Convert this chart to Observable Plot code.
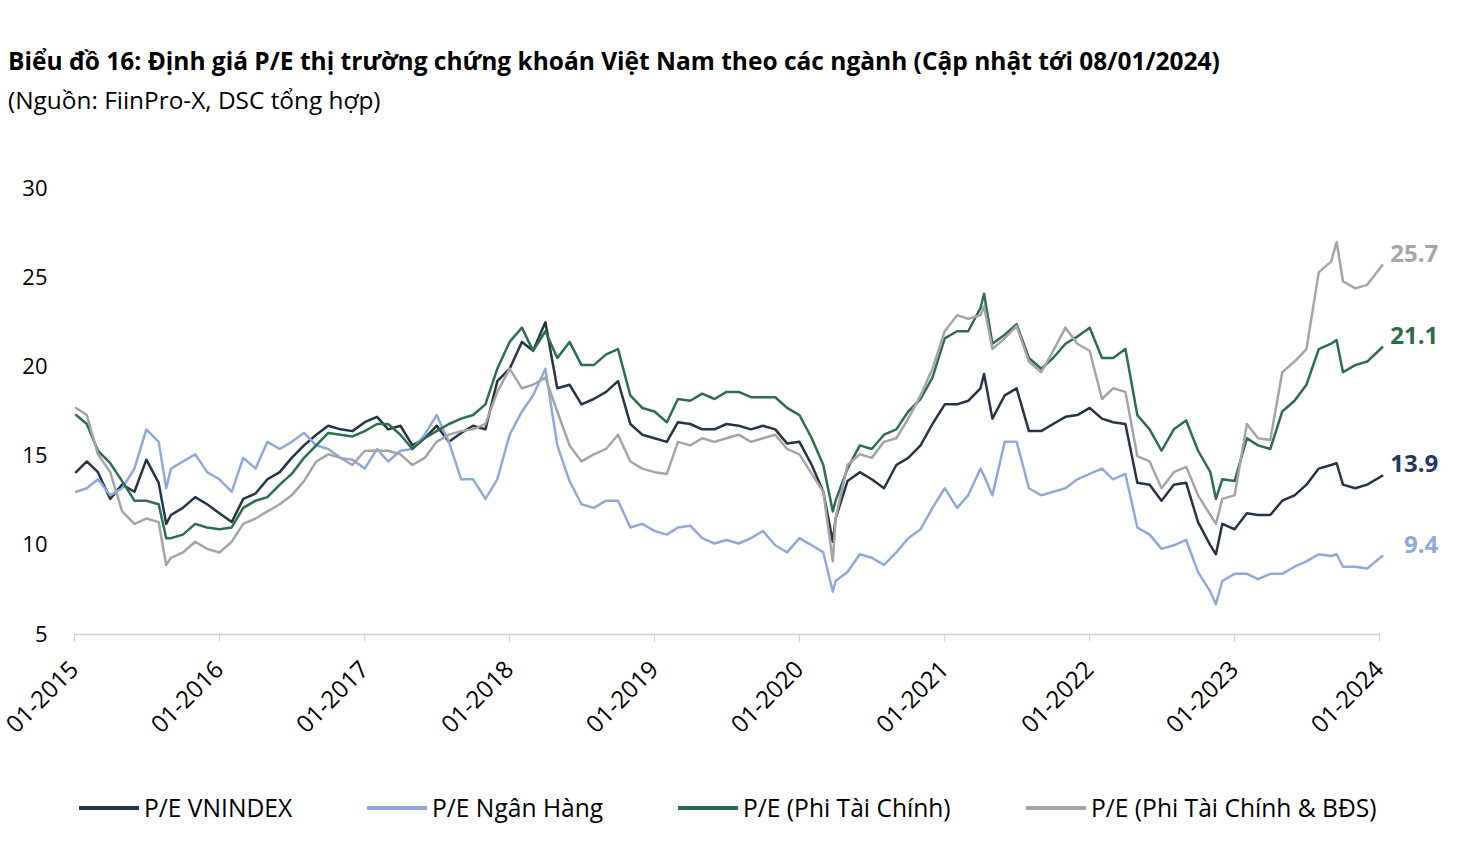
<!DOCTYPE html>
<html><head><meta charset="utf-8">
<script src="https://cdn.jsdelivr.net/npm/d3@7"></script>
<script src="https://cdn.jsdelivr.net/npm/@observablehq/plot@0.6"></script>
<style>
body{margin:0;background:#fff;font-family:"Open Sans",sans-serif;width:1464px;height:868px;position:relative;overflow:hidden;color:#000}
#title{position:absolute;left:8px;top:44px;font-weight:700;font-size:24.5px;white-space:nowrap}
#sub{position:absolute;left:8px;top:83px;font-size:24.4px;white-space:nowrap}
#chart{position:absolute;left:0;top:130px}
.lg{position:absolute;top:791px;display:flex;align-items:center;font-size:24.6px;white-space:nowrap}
.sw{display:inline-block;width:60px;height:4px;margin-right:5px}
</style></head>
<body>
<div id="title">Biểu đồ 16: Định giá P/E thị trường chứng khoán Việt Nam theo các ngành (Cập nhật tới 08/01/2024)</div>
<div id="sub">(Nguồn: FiinPro-X, DSC tổng hợp)</div>
<div id="chart"></div>
<div id="legend"></div>
<script>
const seriesNames = ["P/E VNINDEX", "P/E Ngân Hàng", "P/E (Phi Tài Chính)", "P/E (Phi Tài Chính & BĐS)"];
const seriesColors = ["#253447", "#8fa9dc", "#2d6e4e", "#a5a5a5"];
const labelColors = ["#1f3864", "#8eaadb", "#2e6b4a", "#a6a6a6"];

const dates = [
 "2015-01-05","2015-02","2015-03","2015-04","2015-05","2015-06","2015-07","2015-08","2015-08-20","2015-09","2015-10","2015-11","2015-12",
 "2016-01","2016-02","2016-03","2016-04","2016-05","2016-06","2016-07","2016-08","2016-09","2016-10","2016-11","2016-12",
 "2017-01","2017-02","2017-03","2017-04","2017-05","2017-06","2017-07","2017-08","2017-09","2017-10","2017-11","2017-12",
 "2018-01","2018-02","2018-03","2018-04","2018-05","2018-06","2018-07","2018-08","2018-09","2018-10","2018-11","2018-12",
 "2019-01","2019-02","2019-03","2019-04","2019-05","2019-06","2019-07","2019-08","2019-09","2019-10","2019-11","2019-12",
 "2020-01","2020-02","2020-03","2020-03-25","2020-04","2020-05","2020-06","2020-07","2020-08","2020-09","2020-10","2020-11","2020-12",
 "2021-01","2021-02","2021-03","2021-04","2021-04-10","2021-05","2021-06","2021-07","2021-08","2021-09","2021-10","2021-11","2021-12",
 "2022-01","2022-02","2022-03","2022-04","2022-05","2022-06","2022-07","2022-08","2022-09","2022-10","2022-11","2022-11-15","2022-12",
 "2023-01","2023-02","2023-03","2023-04","2023-05","2023-06","2023-07","2023-08","2023-09","2023-09-15","2023-10","2023-11","2023-12",
 "2024-01-08"
];

const peVnindex = [
 14.1,14.7,14.1,12.6,13.4,13.0,14.8,13.5,11.2,11.7,12.1,12.7,12.3,
 11.8,11.3,12.6,12.9,13.7,14.1,14.9,15.6,16.2,16.7,16.5,16.4,
 16.9,17.2,16.5,16.7,15.6,16.0,16.7,15.8,16.3,16.7,16.5,19.2,
 19.9,21.4,20.9,22.5,18.8,19.0,17.9,18.2,18.6,19.2,16.8,16.2,
 16.0,15.8,16.9,16.8,16.5,16.5,16.8,16.7,16.5,16.7,16.5,15.7,
 15.8,14.5,13.0,10.2,11.5,13.6,14.1,13.7,13.2,14.5,14.9,15.6,16.8,
 17.9,17.9,18.1,18.8,19.6,17.1,18.4,18.8,16.4,16.4,16.8,17.2,17.3,
 17.7,17.1,16.9,16.8,13.5,13.4,12.5,13.4,13.5,11.3,10.0,9.5,11.2,
 10.9,11.8,11.7,11.7,12.5,12.8,13.4,14.3,14.5,14.6,13.4,13.2,13.4,
 13.9
];
const peBank = [
 13.0,13.2,13.7,12.8,13.2,14.3,16.5,15.8,13.2,14.3,14.7,15.1,14.1,
 13.7,13.0,14.9,14.3,15.8,15.4,15.8,16.3,15.6,15.4,14.9,14.8,
 14.3,15.4,14.7,15.3,15.4,16.2,17.3,15.8,13.7,13.7,12.6,13.7,
 16.2,17.5,18.4,19.9,15.6,13.6,12.3,12.1,12.5,12.5,11.0,11.2,
 10.8,10.6,11.0,11.1,10.4,10.1,10.3,10.1,10.4,10.8,10.0,9.6,
 10.4,10.0,9.6,7.4,8.0,8.5,9.5,9.3,8.9,9.6,10.4,10.9,12.1,
 13.2,12.1,12.8,14.3,13.9,12.8,15.8,15.8,13.2,12.8,13.0,13.2,13.7,
 14.0,14.3,13.7,14.0,11.0,10.6,9.8,10.0,10.3,8.5,7.4,6.7,8.0,
 8.4,8.4,8.1,8.4,8.4,8.8,9.1,9.5,9.4,9.5,8.8,8.8,8.7,
 9.4
];
const peNonFin = [
 17.3,16.8,15.3,14.6,13.6,12.5,12.5,12.3,10.4,10.4,10.6,11.2,11.0,
 10.9,11.0,12.1,12.5,12.7,13.4,14.0,14.9,15.6,16.3,16.2,16.1,
 16.4,16.8,16.8,16.2,15.4,16.0,16.4,16.8,17.1,17.3,17.9,19.9,
 21.4,22.2,20.9,22.0,20.5,21.4,20.1,20.1,20.7,21.0,18.4,17.7,
 17.5,16.9,18.2,18.1,18.5,18.2,18.6,18.6,18.3,18.3,18.3,17.7,
 17.3,16.0,14.5,11.9,12.5,14.3,15.6,15.4,16.2,16.5,17.5,18.2,19.4,
 21.6,22.0,22.0,23.3,24.1,21.3,21.8,22.4,20.5,19.9,20.5,21.3,21.7,
 22.2,20.5,20.5,21.0,17.3,16.5,15.3,16.5,17.0,15.3,14.1,12.6,13.7,
 13.6,16.0,15.6,15.4,17.5,18.1,19.0,21.0,21.3,21.5,19.7,20.1,20.3,
 21.1
];
const peNonFinRE = [
 17.7,17.3,15.1,14.1,11.9,11.2,11.5,11.3,8.9,9.3,9.6,10.2,9.8,
 9.6,10.2,11.2,11.5,11.9,12.3,12.8,13.6,14.7,15.1,14.9,14.5,
 15.3,15.3,15.3,15.1,14.5,14.9,15.8,16.2,16.4,16.5,16.8,18.6,
 19.9,18.8,19.0,19.4,17.5,15.6,14.7,15.1,15.4,16.2,14.7,14.3,
 14.1,14.0,15.8,15.6,16.0,15.8,16.0,16.2,15.8,16.0,16.2,15.4,
 15.1,14.0,13.0,9.1,11.5,14.5,15.1,14.9,15.8,16.0,17.1,18.4,19.9,
 22.0,22.9,22.7,22.9,23.4,21.0,21.6,22.3,20.3,19.7,20.9,22.2,21.3,
 20.9,18.2,18.8,18.6,15.0,14.7,13.2,14.1,14.4,12.8,11.7,11.2,12.6,
 12.8,16.8,16.0,15.9,19.7,20.3,21.0,25.3,25.9,27.0,24.8,24.4,24.6,
 25.7
];
const yTicks = [5, 10, 15, 20, 25, 30];
const xTickYears = ["2015","2016","2017","2018","2019","2020","2021","2022","2023","2024"];

const allValues = [peVnindex, peBank, peNonFin, peNonFinRE];
const rows = [];
seriesNames.forEach((name, i) => dates.forEach((d, j) => rows.push({date: new Date(d), value: allValues[i][j], series: name})));
const lastRows = seriesNames.map((name, i) => ({date: new Date(dates[dates.length - 1]), value: allValues[i][dates.length - 1], series: name, color: labelColors[i]}));

const chart = Plot.plot({
  width: 1464, height: 640,
  marginTop: 58, marginBottom: 136, marginLeft: 74, marginRight: 85,
  style: {fontFamily: "'Open Sans', sans-serif", fontSize: "22px", color: "#000", background: "transparent", overflow: "visible"},
  x: {type: "utc", domain: [new Date("2015-01-01"), new Date("2024-01-01")]},
  y: {domain: [5, 30]},
  color: {domain: seriesNames, range: seriesColors},
  marks: [
    Plot.axisY({ticks: yTicks, tickSize: 0, tickPadding: 27, fontSize: 22, fill: "#000", label: null}),
    Plot.ruleY([5], {stroke: "#d0d0d0", strokeWidth: 1.5}),
    Plot.axisX({ticks: xTickYears.map(y => new Date(y + "-01-01")), tickFormat: d3.utcFormat("%m-%Y"), tickRotate: -45, tickSize: 8, tickPadding: 23, stroke: "#d0d0d0", fill: "#000", fontSize: 24, label: null}),
    Plot.lineY(rows, {x: "date", y: "value", stroke: "series", z: "series", strokeWidth: 2.5}),
    Plot.text(lastRows, {x: "date", y: "value", text: d => d.value.toFixed(1), fill: "color", dx: 56, dy: -11, textAnchor: "end", fontWeight: "bold", fontSize: 24})
  ]
});
document.getElementById("chart").appendChild(chart);

const legendLeft = [79, 367, 678, 1026];
const lg = document.getElementById("legend");
seriesNames.forEach((name, i) => {
  const item = document.createElement("div");
  item.className = "lg";
  item.style.left = legendLeft[i] + "px";
  item.innerHTML = `<span class="sw" style="background:${seriesColors[i]}"></span><span>${name}</span>`;
  lg.appendChild(item);
});
</script>
</body></html>
